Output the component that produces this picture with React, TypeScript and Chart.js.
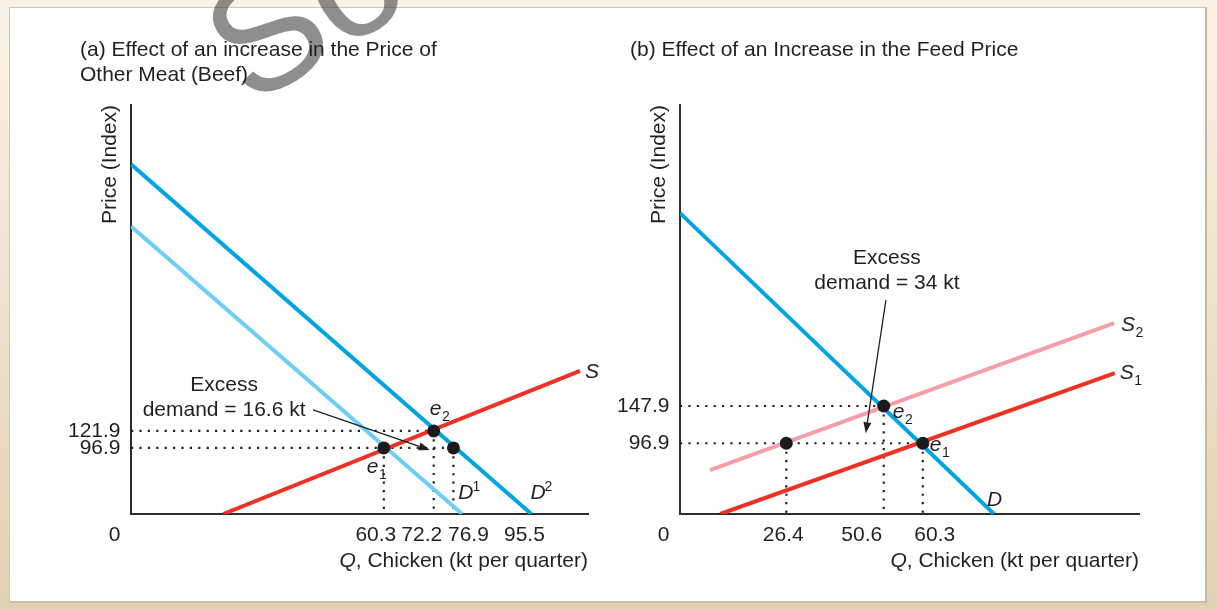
import { useEffect, useRef } from "react";
import { Chart, registerables } from "chart.js";

Chart.register(...registerables);

const FONT = '"Liberation Sans", Arial, Helvetica, sans-serif';
const INK = "#231f20";
const BLUE = "#00a4e4";
const LIGHT_BLUE = "#6dcff6";
const RED = "#ee3124";
const PINK = "#f59ea7";

type Pt = { x: number; y: number };

// (a) Chicken market after the price of beef rises
const aQtyTicks = [60.3, 72.2, 76.9, 95.5];
const aPriceTicks = [96.9, 121.9];
const aDemandBefore: Pt[] = [{ x: 0, y: 422 }, { x: 79, y: 0 }];
const aDemandAfter: Pt[] = [{ x: 0, y: 513 }, { x: 95.5, y: 0 }];
const aSupply: Pt[] = [{ x: 22, y: 0 }, { x: 107.1, y: 210 }];
const aPoints: Pt[] = [{ x: 60.3, y: 96.9 }, { x: 72.2, y: 121.9 }, { x: 76.9, y: 96.9 }];
const aNoteAt: Pt = { x: 22.2, y: 152.6 };

// (b) Chicken market after the feed price rises
const bQtyTicks = [26.4, 50.6, 60.3];
const bPriceTicks = [96.9, 147.9];
const bDemand: Pt[] = [{ x: 0, y: 412 }, { x: 78, y: 0 }];
const bSupplyBefore: Pt[] = [{ x: 10, y: 0 }, { x: 108, y: 193 }];
const bSupplyAfter: Pt[] = [{ x: 7.45, y: 60.2 }, { x: 107.8, y: 261.5 }];
const bPoints: Pt[] = [{ x: 26.4, y: 96.9 }, { x: 50.6, y: 147.9 }, { x: 60.3, y: 96.9 }];
const bNoteAt: Pt = { x: 51.4, y: 316.3 };

interface Mark { main: string; sub?: string; sup?: string; at: Pt; dx: number; dy: number }
interface Note { lines: string[]; at: Pt; tail: [number, number]; tip: Pt; tipShift: [number, number] }
interface PanelSpec {
  left: number;
  width: number;
  xMax: number;
  yMax: number;
  pad: { left: number; top: number; right: number; bottom: number };
  title: string[];
  titleX: number;
  curves: { data: Pt[]; color: string }[];
  points: Pt[];
  qtyTicks: number[];
  qtyShift: number[];
  priceTicks: number[];
  marks: Mark[];
  note: Note;
  watermark?: boolean;
}

// dotted guides: across from the price axis and down to the quantity axis
function guides(points: Pt[]): Pt[][] {
  const segs: Pt[][] = [];
  const levels = new Map<number, number>();
  for (const p of points) levels.set(p.y, Math.max(levels.get(p.y) ?? 0, p.x));
  levels.forEach((qMax, price) => segs.push([{ x: 0, y: price }, { x: qMax, y: price }]));
  for (const p of points) segs.push([{ x: p.x, y: p.y }, { x: p.x, y: 0 }]);
  return segs;
}

const panelA: PanelSpec = {
  left: 0,
  width: 608,
  xMax: 109,
  yMax: 600,
  pad: { left: 131, top: 105, right: 20, bottom: 96 },
  title: ["(a) Effect of an increase in the Price of", "Other Meat (Beef)"],
  titleX: 80,
  curves: [
    { data: aDemandBefore, color: LIGHT_BLUE },
    { data: aDemandAfter, color: BLUE },
    { data: aSupply, color: RED },
  ],
  points: aPoints,
  qtyTicks: aQtyTicks,
  qtyShift: [-8, -12, 15, -7],
  priceTicks: aPriceTicks,
  marks: [
    { main: "S", at: aSupply[1], dx: 5, dy: 1 },
    { main: "D", sup: "1", at: aDemandBefore[1], dx: -4, dy: -21 },
    { main: "D", sup: "2", at: aDemandAfter[1], dx: -1, dy: -21 },
    { main: "e", sub: "2", at: aPoints[1], dx: -4, dy: -22 },
    { main: "e", sub: "1", at: aPoints[0], dx: -17, dy: 19 },
  ],
  note: {
    lines: ["Excess", "demand = 16.6 kt"],
    at: aNoteAt,
    tail: [89, 0],
    tip: { x: aPoints[1].x, y: aPoints[0].y },
    tipShift: [-4, 2],
  },
  watermark: true,
};

const panelB: PanelSpec = {
  left: 608,
  width: 609,
  xMax: 114,
  yMax: 560,
  pad: { left: 72, top: 105, right: 78, bottom: 96 },
  title: ["(b) Effect of an Increase in the Feed Price"],
  titleX: 22,
  curves: [
    { data: bDemand, color: BLUE },
    { data: bSupplyAfter, color: PINK },
    { data: bSupplyBefore, color: RED },
  ],
  points: bPoints,
  qtyTicks: bQtyTicks,
  qtyShift: [-3, -22, 12],
  priceTicks: bPriceTicks,
  marks: [
    { main: "S", sub: "2", at: bSupplyAfter[1], dx: 7, dy: 2 },
    { main: "S", sub: "1", at: bSupplyBefore[1], dx: 5, dy: 0 },
    { main: "D", at: bDemand[1], dx: -7, dy: -14 },
    { main: "e", sub: "2", at: bPoints[1], dx: 9, dy: 6 },
    { main: "e", sub: "1", at: bPoints[2], dx: 7, dy: 2 },
  ],
  note: {
    lines: ["Excess", "demand = 34 kt"],
    at: bNoteAt,
    tail: [-1, 17],
    tip: { x: bPoints[1].x, y: bPoints[0].y },
    tipShift: [-18, -10],
  },
};

function drawWatermark(ctx: CanvasRenderingContext2D) {
  ctx.save();
  ctx.translate(272, 42);
  ctx.rotate((-32 * Math.PI) / 180);
  ctx.font = `160px ${FONT}`;
  ctx.fillStyle = "rgba(60,60,60,0.58)";
  ctx.textAlign = "left";
  ctx.textBaseline = "middle";
  const w = ctx.measureText("S").width;
  ctx.fillText("So", -w / 2, 0);
  ctx.restore();
}

function arrow(ctx: CanvasRenderingContext2D, x0: number, y0: number, x1: number, y1: number) {
  const a = Math.atan2(y1 - y0, x1 - x0);
  const len = 11;
  const half = 4;
  const bx = x1 - len * Math.cos(a);
  const by = y1 - len * Math.sin(a);
  ctx.strokeStyle = INK;
  ctx.lineWidth = 1.3;
  ctx.beginPath();
  ctx.moveTo(x0, y0);
  ctx.lineTo(bx, by);
  ctx.stroke();
  ctx.fillStyle = INK;
  ctx.beginPath();
  ctx.moveTo(x1, y1);
  ctx.lineTo(bx + half * Math.sin(a), by - half * Math.cos(a));
  ctx.lineTo(bx - half * Math.sin(a), by + half * Math.cos(a));
  ctx.closePath();
  ctx.fill();
}

function annotate(spec: PanelSpec) {
  return {
    id: "annotate",
    beforeDraw(chart: Chart) {
      if (spec.watermark) drawWatermark(chart.ctx);
    },
    afterDraw(chart: Chart) {
      const { ctx, chartArea: area, scales } = chart;
      const px = (v: number) => scales.x.getPixelForValue(v);
      const py = (v: number) => scales.y.getPixelForValue(v);
      const normal = `21px ${FONT}`;
      const italic = `italic 21px ${FONT}`;
      const small = `14px ${FONT}`;
      ctx.save();
      ctx.fillStyle = INK;
      ctx.textBaseline = "middle";
      ctx.font = normal;

      ctx.textAlign = "left";
      spec.title.forEach((line, i) => ctx.fillText(line, spec.titleX, 50 + i * 25));

      ctx.save();
      ctx.translate(area.left - 21, area.top);
      ctx.rotate(-Math.PI / 2);
      ctx.textAlign = "right";
      ctx.fillText("Price (Index)", 0, 0);
      ctx.restore();

      const q = "Q";
      const rest = ", Chicken (kt per quarter)";
      ctx.font = italic;
      const wq = ctx.measureText(q).width;
      ctx.font = normal;
      const wr = ctx.measureText(rest).width;
      const x0 = area.right - wq - wr;
      ctx.font = italic;
      ctx.fillText(q, x0, 561);
      ctx.font = normal;
      ctx.fillText(rest, x0 + wq, 561);

      ctx.textAlign = "center";
      ctx.fillText("0", area.left - 16.5, area.bottom + 21);
      spec.qtyTicks.forEach((v, i) =>
        ctx.fillText(v.toFixed(1), px(v) + spec.qtyShift[i], area.bottom + 21)
      );
      ctx.textAlign = "right";
      spec.priceTicks.forEach((v) => ctx.fillText(v.toFixed(1), area.left - 10.5, py(v)));

      ctx.textAlign = "left";
      for (const m of spec.marks) {
        const x = px(m.at.x) + m.dx;
        const y = py(m.at.y) + m.dy;
        ctx.font = italic;
        ctx.fillText(m.main, x, y);
        const w = ctx.measureText(m.main).width;
        ctx.font = small;
        if (m.sub) ctx.fillText(m.sub, x + w + 0.5, y + 8);
        if (m.sup) ctx.fillText(m.sup, x + w - 1, y - 6);
      }

      const n = spec.note;
      const nx = px(n.at.x);
      const ny = py(n.at.y);
      ctx.font = normal;
      ctx.textAlign = "center";
      ctx.fillText(n.lines[0], nx, ny - 24.5);
      ctx.fillText(n.lines[1], nx, ny);
      arrow(
        ctx,
        nx + n.tail[0],
        ny + n.tail[1],
        px(n.tip.x) + n.tipShift[0],
        py(n.tip.y) + n.tipShift[1]
      );
      ctx.restore();
    },
  };
}

function buildConfig(spec: PanelSpec): any {
  const datasets: any[] = [];
  for (const seg of guides(spec.points)) {
    datasets.push({
      data: seg,
      showLine: true,
      borderColor: INK,
      borderWidth: 2.2,
      borderDash: [2.2, 6.2],
      pointRadius: 0,
      order: 3,
    });
  }
  spec.curves.forEach((c, i) =>
    datasets.push({
      data: c.data,
      showLine: true,
      borderColor: c.color,
      borderWidth: 4,
      pointRadius: 0,
      order: 2 + (spec.curves.length - i) * 0.01,
    })
  );
  datasets.push({
    data: spec.points,
    showLine: false,
    pointRadius: 6.5,
    pointBackgroundColor: "#1b1b1b",
    pointBorderWidth: 0,
    order: 0,
    clip: false,
  });
  const axis = (max: number) => ({
    type: "linear",
    min: 0,
    max,
    grid: { display: false, drawTicks: false },
    ticks: { display: false },
    border: { display: true, color: "#2e2c2c", width: 2 },
  });
  return {
    type: "scatter",
    data: { datasets },
    options: {
      animation: false,
      responsive: false,
      devicePixelRatio: 1,
      events: [],
      layout: { padding: spec.pad, autoPadding: false },
      plugins: { legend: { display: false }, tooltip: { enabled: false }, title: { display: false } },
      scales: { x: axis(spec.xMax), y: axis(spec.yMax) },
    },
    plugins: [annotate(spec)],
  };
}

function Panel({ spec }: { spec: PanelSpec }) {
  const ref = useRef<HTMLCanvasElement>(null);
  useEffect(() => {
    const chart = new Chart(ref.current as HTMLCanvasElement, buildConfig(spec));
    return () => chart.destroy();
  }, [spec]);
  return (
    <canvas
      ref={ref}
      width={spec.width}
      height={610}
      style={{ position: "absolute", left: spec.left, top: 0, width: spec.width, height: 610 }}
    />
  );
}

export default function App() {
  return (
    <div
      style={{
        position: "absolute",
        left: 0,
        top: 0,
        width: 1217,
        height: 610,
        overflow: "hidden",
        background: "linear-gradient(#f9f3e6, #e1d1b3)",
      }}
    >
      <div
        style={{
          position: "absolute",
          left: 9,
          top: 7,
          width: 1195,
          height: 593,
          background: "#ffffff",
          borderTop: "1px solid #d3c6b6",
          borderLeft: "1px solid #d3c6b6",
          borderRight: "2px solid #c6b7a5",
          borderBottom: "2px solid #c9baa8",
        }}
      />
      <Panel spec={panelA} />
      <Panel spec={panelB} />
    </div>
  );
}
